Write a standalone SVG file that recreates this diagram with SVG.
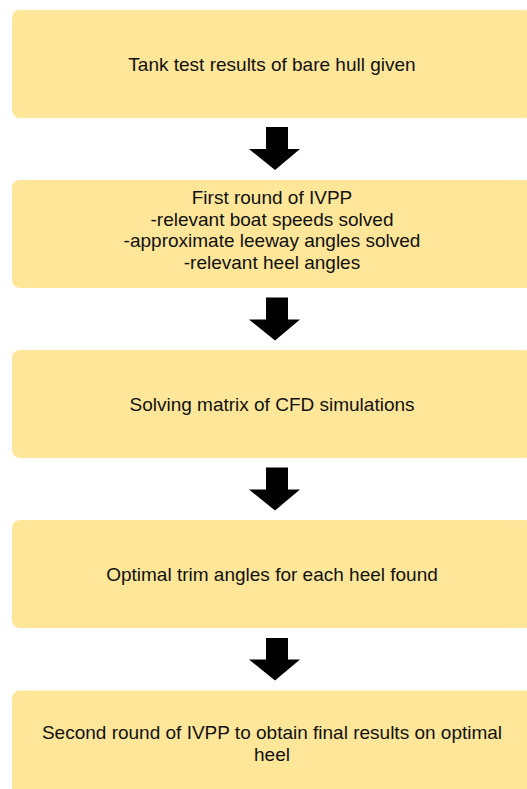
<svg xmlns="http://www.w3.org/2000/svg" width="527" height="789" viewBox="0 0 527 789">
  <style>
    .box { fill: #FFE699; }
    .lbl { font-family: "Liberation Sans", Arial, sans-serif; font-size: 19px; fill: #111111; text-anchor: middle; }
    .arr { fill: #000000; }
  </style>
  <rect width="527" height="789" fill="#FFFFFF"/>
  <g id="node1">
    <rect class="box" x="12" y="10" width="520" height="108" rx="8" ry="8"/>
    <text class="lbl" x="272" y="70.5">Tank test results of bare hull given</text>
  </g>
  <g id="node2">
    <rect class="box" x="12" y="180" width="520" height="108" rx="8" ry="8"/>
    <text class="lbl" x="272" y="204"><tspan x="272" y="204">First round of IVPP</tspan><tspan x="272" y="225.5">-relevant boat speeds solved</tspan><tspan x="272" y="247">-approximate leeway angles solved</tspan><tspan x="272" y="268.5">-relevant heel angles</tspan></text>
  </g>
  <g id="node3">
    <rect class="box" x="12" y="350" width="520" height="108" rx="8" ry="8"/>
    <text class="lbl" x="272" y="410.5">Solving matrix of CFD simulations</text>
  </g>
  <g id="node4">
    <rect class="box" x="12" y="520" width="520" height="108" rx="8" ry="8"/>
    <text class="lbl" x="272" y="580.5">Optimal trim angles for each heel found</text>
  </g>
  <g id="node5">
    <rect class="box" x="12" y="690.5" width="520" height="110" rx="8" ry="8"/>
    <text class="lbl" x="272" y="739.3"><tspan x="272" y="739.3">Second round of IVPP to obtain final results on optimal</tspan><tspan x="272" y="760.8">heel</tspan></text>
  </g>
  <g id="connectors">
    <polygon class="arr" points="266,127 288,127 288,149 300,149 275,170 249,149 266,149"/>
    <polygon class="arr" points="266,297.5 288,297.5 288,319.5 300,319.5 275,340.5 249,319.5 266,319.5"/>
    <polygon class="arr" points="266,467.5 288,467.5 288,489.5 300,489.5 275,510.5 249,489.5 266,489.5"/>
    <polygon class="arr" points="266,638 288,638 288,659.5 300,659.5 275,680.5 249,659.5 266,659.5"/>
  </g>
</svg>
